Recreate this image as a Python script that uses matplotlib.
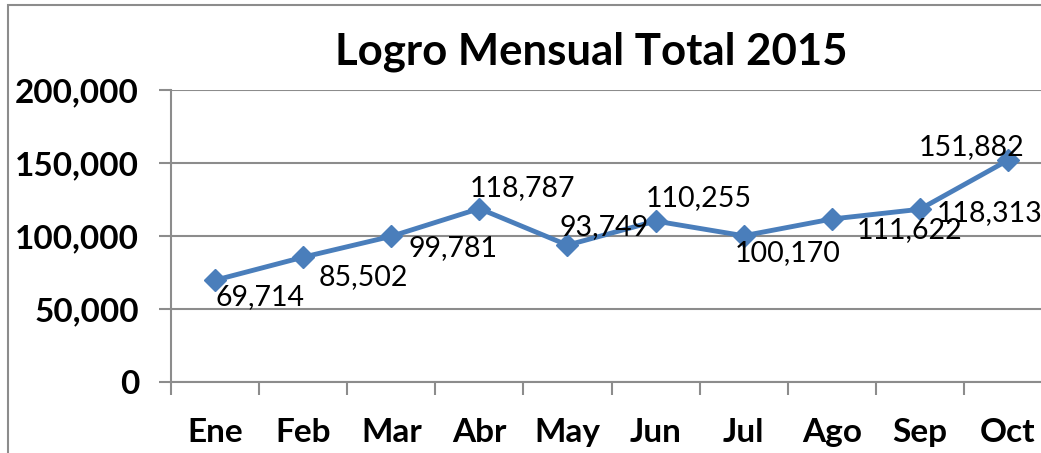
import matplotlib.pyplot as plt
from matplotlib.patches import Rectangle
from matplotlib.ticker import FuncFormatter

# datos del grafico
meses = ['Ene', 'Feb', 'Mar', 'Abr', 'May', 'Jun', 'Jul', 'Ago', 'Sep', 'Oct']
logro = [69714, 85502, 99781, 118787, 93749, 110255, 100170, 111622, 118313, 151882]
yticks = [0, 50000, 100000, 150000, 200000]

# desplazamiento de cada etiqueta (pixeles)
offsets = [(45, -17), (60, -20), (62, -12), (43, 21), (37, 18),
           (43, 23), (44, -17), (78, -11), (70, -4), (-36, 13)]

plt.rcParams['font.family'] = ['Lato', 'DejaVu Sans']

W, H = 1041, 453
fig = plt.figure(figsize=(W / 100, H / 100), dpi=100)
fig.patch.set_facecolor('white')

# marco del area del grafico
fig.patches.append(Rectangle((8 / W, -0.1), 1.2, 1 - 5 / H + 0.1, transform=fig.transFigure,
                             fill=False, edgecolor='#8c8c8c', linewidth=1.5))

ax = fig.add_axes([171 / W, 71 / H, 881 / W, 292 / H])
x = list(range(len(meses)))
ax.plot(x, logro, color='#4a7ebb', linewidth=3.5, marker='D', markersize=11.5,
        clip_on=False, zorder=3)

for i, v in enumerate(logro):
    ax.annotate(f'{v:,}', (i, v), xytext=offsets[i], textcoords='offset pixels',
                ha='center', va='center', fontsize=20.5, color='black', zorder=4)

ax.set_xlim(-0.5, len(meses) - 0.5)
ax.set_ylim(0, 200000)
ax.set_yticks(yticks)
ax.yaxis.set_major_formatter(FuncFormatter(lambda v, p: f'{int(v):,}'))
ax.set_xticks(x)
ax.set_xticklabels(meses)
ax.set_xticks([i - 0.5 for i in range(len(meses) + 1)], minor=True)

ax.grid(axis='y', color='#8c8c8c', linewidth=1.5)
ax.set_axisbelow(True)
for s in ['top', 'right']:
    ax.spines[s].set_visible(False)
for s in ['left', 'bottom']:
    ax.spines[s].set_color('#8c8c8c')
    ax.spines[s].set_linewidth(1.5)

ax.tick_params(axis='y', length=9, width=1.5, color='#8c8c8c', pad=14, labelsize=24)
ax.tick_params(axis='x', which='major', length=0, pad=26, labelsize=24)
ax.tick_params(axis='x', which='minor', length=9, width=1.5, color='#8c8c8c')
for lab in ax.get_xticklabels() + ax.get_yticklabels():
    lab.set_fontweight('bold')

fig.text(591 / W, 1 - 52 / H, 'Logro Mensual Total 2015', ha='center', va='center',
         fontsize=31.5, fontweight='bold')

fig.savefig('out.png', dpi=100)
